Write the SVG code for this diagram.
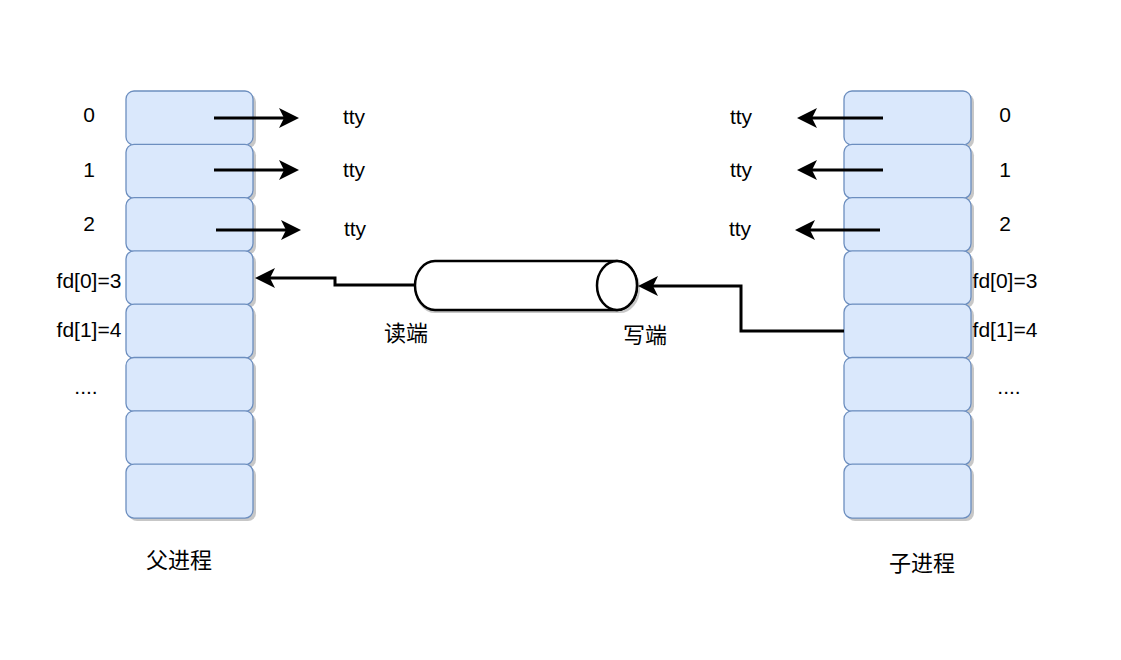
<svg xmlns="http://www.w3.org/2000/svg" width="1121" height="660" viewBox="0 0 1121 660">
<defs>
<style>
.box{fill:#dae8fc;stroke:#6c8ebf;stroke-width:1.3}
.sh{fill:#000;opacity:0.22}
.lbl{font-family:"Liberation Sans",Arial,sans-serif;font-size:21px;fill:#000;text-anchor:middle}
.cjk{font-family:"Liberation Sans","Noto Sans CJK SC",sans-serif;font-size:22px;fill:#000;text-anchor:middle}
.edge{fill:none;stroke:#000;stroke-width:3}
</style>
<marker id="arr" viewBox="0 0 20 20" markerWidth="20" markerHeight="20" refX="5" refY="10" orient="auto" markerUnits="userSpaceOnUse">
<path d="M0,0 L20,10 L0,20 L5,10 Z" fill="#000"/>
</marker>
<g id="cell">
<rect class="sh" x="3" y="3" width="127" height="54" rx="8"/>
<rect class="box" x="0" y="0" width="127" height="54" rx="8"/>
</g>
</defs>
<rect width="1121" height="660" fill="#fff"/>

<g id="parent">
<use href="#cell" x="126" y="91"/>
<use href="#cell" x="126" y="144.3"/>
<use href="#cell" x="126" y="197.6"/>
<use href="#cell" x="126" y="250.9"/>
<use href="#cell" x="126" y="304.2"/>
<use href="#cell" x="126" y="357.5"/>
<use href="#cell" x="126" y="410.8"/>
<use href="#cell" x="126" y="464.1"/>
</g>

<g id="child">
<use href="#cell" x="844" y="91"/>
<use href="#cell" x="844" y="144.3"/>
<use href="#cell" x="844" y="197.6"/>
<use href="#cell" x="844" y="250.9"/>
<use href="#cell" x="844" y="304.2"/>
<use href="#cell" x="844" y="357.5"/>
<use href="#cell" x="844" y="410.8"/>
<use href="#cell" x="844" y="464.1"/>
</g>

<g id="pipe">
<path d="M435 264 L620 264 A20 24.5 0 0 1 620 313 L435 313 A20 24.5 0 0 1 435 264 Z" fill="#000" opacity="0.22"/>
<path d="M435 261 L617 261 A20 24.5 0 0 1 617 310 L435 310 A20 24.5 0 0 1 435 261 Z" fill="#fff" stroke="#000" stroke-width="2.5"/>
<ellipse cx="617" cy="285.5" rx="20" ry="24.5" fill="#fff" stroke="#000" stroke-width="2.5"/>
</g>

<g id="connectors">
<path class="edge" d="M214 118 H284" marker-end="url(#arr)"/>
<path class="edge" d="M214 170 H284" marker-end="url(#arr)"/>
<path class="edge" d="M216 230 H286" marker-end="url(#arr)"/>
<path class="edge" d="M883 118 H812" marker-end="url(#arr)"/>
<path class="edge" d="M883 170 H812" marker-end="url(#arr)"/>
<path class="edge" d="M880 230 H810" marker-end="url(#arr)"/>
<path class="edge" d="M415 285 H335 V278 H270" marker-end="url(#arr)"/>
<path class="edge" d="M844 331 H741 V286 H653" marker-end="url(#arr)"/>
</g>

<g id="labels-left">
<text class="lbl" x="89" y="122">0</text>
<text class="lbl" x="89" y="177">1</text>
<text class="lbl" x="89" y="231">2</text>
<text class="lbl" x="89" y="288">fd[0]=3</text>
<text class="lbl" x="89" y="337">fd[1]=4</text>
<text class="lbl" x="86" y="394">....</text>
<text class="lbl" x="354" y="124">tty</text>
<text class="lbl" x="354" y="177">tty</text>
<text class="lbl" x="355" y="236">tty</text>
</g>

<g id="labels-right">
<text class="lbl" x="1005" y="122">0</text>
<text class="lbl" x="1005" y="177">1</text>
<text class="lbl" x="1005" y="231">2</text>
<text class="lbl" x="1005" y="288">fd[0]=3</text>
<text class="lbl" x="1005" y="337">fd[1]=4</text>
<text class="lbl" x="1009" y="394">....</text>
<text class="lbl" x="741" y="124">tty</text>
<text class="lbl" x="741" y="177">tty</text>
<text class="lbl" x="740" y="236">tty</text>
</g>

<g id="pipe-labels">
<text class="cjk" x="406" y="341">读端</text>
<text class="cjk" x="645" y="343">写端</text>
</g>

<g id="titles">
<text class="cjk" x="179" y="568">父进程</text>
<text class="cjk" x="922" y="571">子进程</text>
</g>
</svg>
